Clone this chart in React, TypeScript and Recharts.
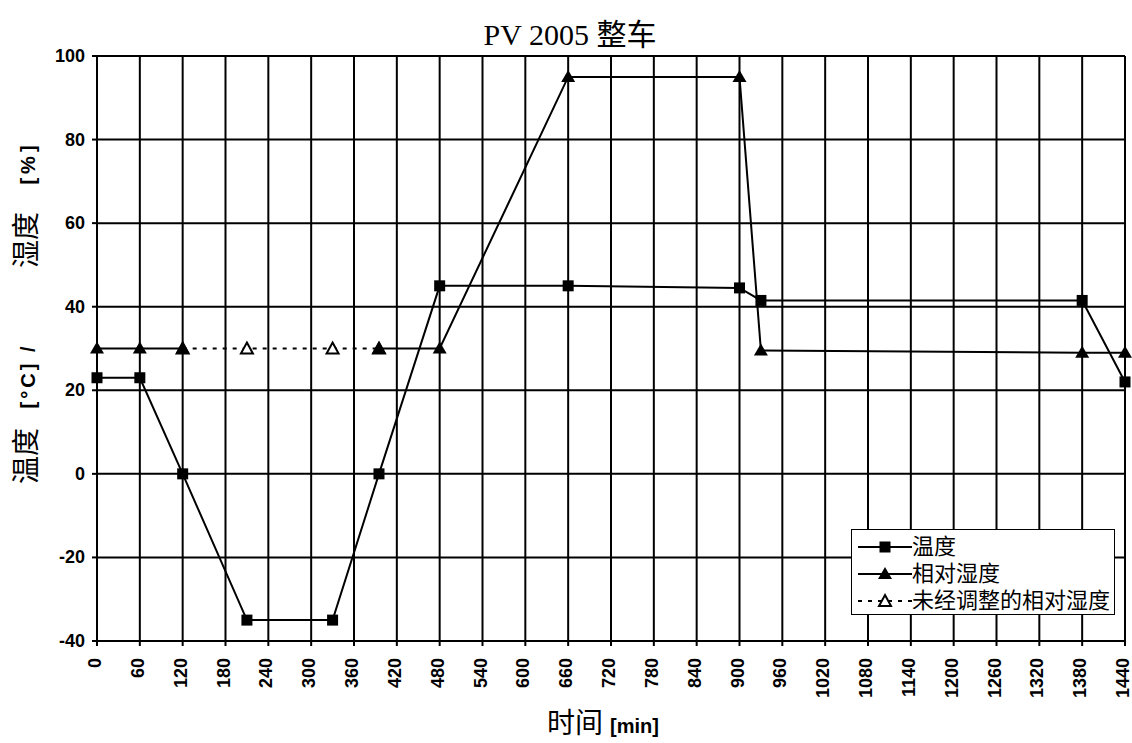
import { LineChart, Line, XAxis, YAxis, CartesianGrid } from "recharts";

const times = [0, 60, 120, 210, 330, 395, 480, 660, 900, 930, 1380, 1440];
const temperature = [23, 23, 0, -35, -35, 0, 45, 45, 44.5, 41.5, 41.5, 22];
const humidity = [30, 30, 30, null, null, 30, 30, 95, 95, 29.5, 29, 29];
const humidityRaw = [null, null, 30, 30, 30, 30, null, null, null, null, null, null];

const xTicks = [
  0, 60, 120, 180, 240, 300, 360, 420, 480, 540, 600, 660, 720, 780, 840, 900,
  960, 1020, 1080, 1140, 1200, 1260, 1320, 1380, 1440,
];
const yTicks = [-40, -20, 0, 20, 40, 60, 80, 100];

const rows = times.map((t, i) => ({
  t,
  temp: temperature[i],
  rh: humidity[i],
  rhRaw: humidityRaw[i],
}));

const sans = "'Liberation Sans', Arial, sans-serif";
const cjk = "'Liberation Serif', 'Noto Sans CJK SC', serif";

const SquareDot = (p: any) => {
  if (p.value == null || p.cx == null) return <g key={p.key} />;
  return <rect key={p.key} x={p.cx - 5.5} y={p.cy - 5.5} width={11} height={11} fill="#000" />;
};

const TriDot = (p: any) => {
  if (p.value == null || p.cx == null) return <g key={p.key} />;
  const { cx, cy } = p;
  return (
    <path key={p.key} d={`M${cx},${cy - 7} L${cx + 7},${cy + 5} L${cx - 7},${cy + 5} Z`} fill="#000" />
  );
};

const HollowTri = (p: any) => {
  if (p.value == null || p.cx == null) return <g key={p.key} />;
  const { cx, cy } = p;
  return (
    <path
      key={p.key}
      d={`M${cx},${cy - 6} L${cx + 6},${cy + 5} L${cx - 6},${cy + 5} Z`}
      fill="#fff"
      stroke="#000"
      strokeWidth={2}
    />
  );
};

const tickStyle = { fontFamily: sans, fontWeight: "bold" as const, fontSize: 18 };

const XTick = (p: any) => {
  const { x, y, payload } = p;
  const xx = x - 2;
  const yy = y + 10;
  return (
    <text
      x={xx}
      y={yy}
      transform={`rotate(-90 ${xx} ${yy})`}
      textAnchor="end"
      dominantBaseline="central"
      fill="#000"
      style={tickStyle}
    >
      {payload.value}
    </text>
  );
};

const YTick = (p: any) => {
  const { x, y, payload } = p;
  return (
    <text x={x - 5} y={y} textAnchor="end" dominantBaseline="central" fill="#000" style={tickStyle}>
      {payload.value}
    </text>
  );
};

function LegendBox() {
  const items = [
    { label: "温度", dash: false, mark: "sq" },
    { label: "相对湿度", dash: false, mark: "tri" },
    { label: "未经调整的相对湿度", dash: true, mark: "hollow" },
  ];
  return (
    <div
      style={{
        position: "absolute",
        left: 851,
        top: 529,
        width: 264,
        height: 86,
        border: "1.5px solid #000",
        background: "#fff",
        padding: "3px 0 0 6px",
        boxSizing: "border-box",
      }}
    >
      {items.map((it) => (
        <div key={it.label} style={{ display: "flex", alignItems: "center", height: 27 }}>
          <svg width={54} height={20}>
            <line
              x1={0}
              y1={10}
              x2={54}
              y2={10}
              stroke="#000"
              strokeWidth={2}
              strokeDasharray={it.dash ? "4 6" : undefined}
            />
            {it.mark === "sq" && <rect x={21.5} y={4.5} width={11} height={11} fill="#000" />}
            {it.mark === "tri" && <path d="M27,3 L34,15 L20,15 Z" fill="#000" />}
            {it.mark === "hollow" && (
              <path d="M27,4 L33,15 L21,15 Z" fill="#fff" stroke="#000" strokeWidth={2} />
            )}
          </svg>
          <span style={{ fontFamily: cjk, fontSize: 22, lineHeight: "24px", color: "#000" }}>{it.label}</span>
        </div>
      ))}
    </div>
  );
}

const Rot = ({ cx, cy, children }: { cx: number; cy: number; children: any }) => (
  <div
    style={{
      position: "absolute",
      left: cx,
      top: cy,
      transform: "translate(-50%, -50%) rotate(-90deg)",
      whiteSpace: "nowrap",
      color: "#000",
      lineHeight: 1,
    }}
  >
    {children}
  </div>
);

export default function App() {
  return (
    <div style={{ position: "absolute", left: 0, top: 0, width: 1132, height: 743, background: "#fff" }}>
      <div
        style={{
          position: "absolute",
          left: 570,
          top: 10,
          transform: "translateX(-50%)",
          whiteSpace: "nowrap",
          fontFamily: cjk,
          fontSize: 30,
          color: "#000",
        }}
      >
        PV 2005 整车
      </div>
      <LineChart width={1132} height={743} data={rows} margin={{ top: 56, right: 7, left: 0, bottom: 0 }}>
        <CartesianGrid stroke="#000" strokeWidth={2} verticalValues={xTicks} horizontalValues={yTicks} />
        <XAxis
          dataKey="t"
          type="number"
          domain={[0, 1440]}
          ticks={xTicks}
          interval={0}
          height={102}
          tick={<XTick />}
          stroke="#000"
          strokeWidth={2}
          tickSize={5}
        />
        <YAxis
          type="number"
          domain={[-40, 100]}
          ticks={yTicks}
          interval={0}
          width={97}
          stroke="#000"
          strokeWidth={2}
          tickSize={5}
          tick={<YTick />}
        />
        <Line
          dataKey="rhRaw"
          stroke="#000"
          strokeWidth={2}
          strokeDasharray="4 6"
          dot={<HollowTri />}
          connectNulls={false}
          isAnimationActive={false}
        />
        <Line dataKey="rh" stroke="#000" strokeWidth={2} dot={<TriDot />} connectNulls={false} isAnimationActive={false} />
        <Line dataKey="temp" stroke="#000" strokeWidth={2} dot={<SquareDot />} isAnimationActive={false} />
      </LineChart>
      <Rot cx={27} cy={456}>
        <span style={{ fontFamily: cjk, fontSize: 28 }}>温度</span>
      </Rot>
      <Rot cx={28} cy={376}>
        <span style={{ fontFamily: sans, fontWeight: "bold", fontSize: 20, letterSpacing: 3 }}>[°C] /</span>
      </Rot>
      <Rot cx={27} cy={240}>
        <span style={{ fontFamily: cjk, fontSize: 28 }}>湿度</span>
      </Rot>
      <Rot cx={28} cy={163}>
        <span style={{ fontFamily: sans, fontWeight: "bold", fontSize: 20, letterSpacing: 4 }}>[%]</span>
      </Rot>
      <div
        style={{
          position: "absolute",
          left: 603,
          top: 701,
          transform: "translateX(-50%)",
          whiteSpace: "nowrap",
          color: "#000",
        }}
      >
        <span style={{ fontFamily: cjk, fontSize: 28 }}>时间 </span>
        <span style={{ fontFamily: sans, fontWeight: "bold", fontSize: 20 }}>[min]</span>
      </div>
      <LegendBox />
    </div>
  );
}
